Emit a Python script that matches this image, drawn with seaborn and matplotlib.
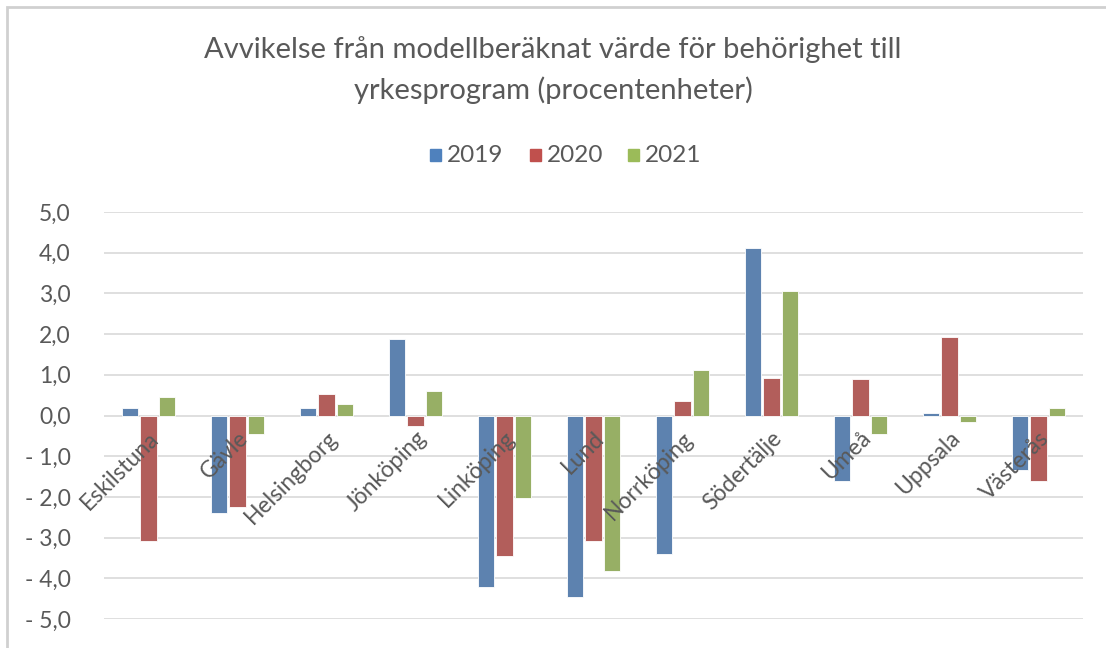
import pandas as pd
import matplotlib
matplotlib.use("Agg")
import matplotlib.pyplot as plt
import matplotlib.transforms as mtransforms
from matplotlib.patches import Rectangle
import seaborn as sns

cities = ["Eskilstuna", "Gävle", "Helsingborg", "Jönköping", "Linköping", "Lund",
          "Norrköping", "Södertälje", "Umeå", "Uppsala", "Västerås"]
years = ["2019", "2020", "2021"]
v2019 = [0.18, -2.39, 0.18, 1.88, -4.22, -4.47, -3.40, 4.12, -1.61, 0.05, -1.33]
v2020 = [-3.09, -2.24, 0.53, -0.27, -3.44, -3.09, 0.35, 0.92, 0.89, 1.94, -1.60]
v2021 = [0.46, -0.45, 0.29, 0.61, -2.02, -3.83, 1.13, 3.07, -0.45, -0.16, 0.18]
colors = ["#4F81BD", "#C0504D", "#9BBB59"]

df = pd.DataFrame({
    "Stad": cities * 3,
    "År": [y for y in years for _ in cities],
    "Värde": v2019 + v2020 + v2021,
})

sns.set_style("white")
plt.rcParams["font.family"] = ["Lato", "DejaVu Sans"]
txt = "#595959"

fig = plt.figure(figsize=(11.06, 6.48), dpi=100)
ax = fig.add_axes([104 / 1106, 1 - 619 / 648, (1083 - 104) / 1106, (619 - 212) / 648])

sns.barplot(data=df, x="Stad", y="Värde", hue="År", palette=colors, width=0.62,
            gap=0.12, edgecolor="white", linewidth=0.6, ax=ax, legend=False, zorder=3)

ax.set_ylim(-5, 5)
ax.set_xlim(-0.5, len(cities) - 0.5)
ax.set_yticks(range(-5, 6))
ax.set_yticklabels([("- " if v < 0 else "") + f"{abs(v):.1f}".replace(".", ",") for v in range(-5, 6)],
                   fontsize=16.5, color=txt)
ax.tick_params(axis="y", length=0, pad=24)
ax.set_xticks([])
ax.set_xlabel("")
ax.set_ylabel("")
ax.grid(axis="y", color="#D9D9D9", linewidth=1.2, zorder=0)
ax.set_axisbelow(True)
for s in ax.spines.values():
    s.set_visible(False)

# rotated category labels hanging at the zero line
off = mtransforms.offset_copy(ax.transData, fig=fig, x=0, y=-12, units="dots")
for i, c in enumerate(cities):
    ax.text(i, 0, c, transform=off, rotation=45, rotation_mode="anchor",
            ha="right", va="top", fontsize=16.5, color=txt, zorder=5)

fig.text(0.5, 1 - 50 / 648, "Avvikelse från modellberäknat värde för behörighet till",
         ha="center", va="center", fontsize=21, color=txt)
fig.text(0.5, 1 - 90 / 648, "yrkesprogram (procentenheter)",
         ha="center", va="center", fontsize=21, color=txt)

# legend
lx = [430, 530, 628]
for x0, y, col in zip(lx, years, colors):
    fig.patches.append(Rectangle((x0 / 1106, 1 - 161 / 648), 11 / 1106, 12 / 648,
                                 transform=fig.transFigure, color=col))
    fig.text((x0 + 17) / 1106, 1 - 155 / 648, y, ha="left", va="center", fontsize=17.5, color=txt)

fig.patches.append(Rectangle((7 / 1106, -0.1), 1.2, 1 - 7 / 648 + 0.1, transform=fig.transFigure,
                             fill=False, edgecolor="#D0D0D0", linewidth=2))

fig.savefig("out.png", dpi=100)
